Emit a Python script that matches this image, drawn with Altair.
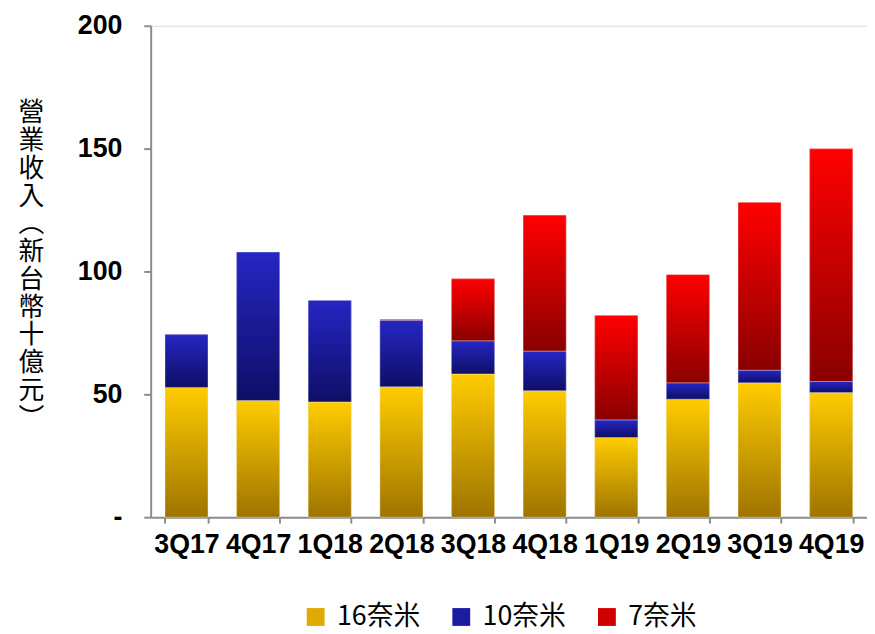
import altair as alt
import pandas as pd

quarters = ["3Q17", "4Q17", "1Q18", "2Q18", "3Q18", "4Q18", "1Q19", "2Q19", "3Q19", "4Q19"]
series = ["16奈米", "10奈米", "7奈米"]
nm16 = [52.8, 47.5, 46.9, 53.1, 58.3, 51.5, 32.4, 48.0, 54.7, 50.7]
nm10 = [21.5, 60.4, 41.3, 27.0, 13.5, 16.1, 7.2, 6.7, 5.1, 4.5]
nm7 = [0.0, 0.0, 0.0, 0.4, 25.2, 55.3, 42.5, 44.0, 68.3, 94.7]
y_ticks = [0, 50, 100, 150, 200]
y_title = ["營", "業", "收", "入", "︵", "新", "台", "幣", "十", "億", "元", "︶"]

rows = []
for i, q in enumerate(quarters):
    for k, (name, vals) in enumerate(zip(series, [nm16, nm10, nm7])):
        rows.append({"quarter": q, "series": name, "value": vals[i], "order": k})
df = pd.DataFrame(rows)

solid = ["#E0AA00", "#1C1CA0", "#D00000"]
grads = [
    ("#FFCC00", "#9E7400"),
    ("#2626C4", "#0E0E66"),
    ("#FF0000", "#8A0000"),
]

def gradient(top, bottom):
    return {
        "gradient": "linear",
        "x1": 0, "x2": 0, "y1": 0, "y2": 1,
        "stops": [{"offset": 0, "color": top}, {"offset": 1, "color": bottom}],
    }

x_enc = alt.X(
    "quarter:N",
    sort=quarters,
    scale=alt.Scale(paddingInner=0.4, paddingOuter=0.2),
    axis=alt.Axis(
        title=None, labelAngle=0, labelFont="Liberation Sans", labelFontSize=27,
        labelFontWeight="bold", labelColor="black", labelPadding=9,
        tickBand="extent", tickSize=6, tickWidth=2, tickColor="#8c8c8c",
        domainColor="#8c8c8c", domainWidth=2,
    ),
)
y_enc = alt.Y(
    "v0:Q",
    scale=alt.Scale(domain=[0, 200], nice=False),
    axis=alt.Axis(
        values=y_ticks, grid=False, title=y_title, titleAngle=0,
        titleFont="Noto Sans CJK TC", titleFontSize=26, titleFontWeight="normal",
        titleLineHeight=28, titleAlign="center", titleBaseline="top",
        titleX=-121, titleY=75, titleColor="black",
        labelExpr="datum.value == 0 ? '-' : datum.label",
        labelFont="Liberation Sans", labelFontSize=27, labelFontWeight="bold",
        labelColor="black", labelPadding=22, tickSize=7, tickWidth=2,
        tickColor="#8c8c8c", domainColor="#8c8c8c", domainWidth=2,
    ),
)

base = alt.Chart(df).transform_filter("datum.value > 0").transform_stack(
    stack="value", groupby=["quarter"], as_=["v0", "v1"],
    sort=[alt.SortField("order", order="ascending")],
)

legend_layer = base.mark_bar().encode(
    x=x_enc, y=y_enc, y2="v1:Q",
    color=alt.Color(
        "series:N",
        scale=alt.Scale(domain=series, range=solid),
        legend=alt.Legend(
            orient="none", legendX=153, legendY=583, direction="horizontal",
            title=None, symbolType="square", symbolSize=324, symbolStrokeWidth=0,
            labelFont="Noto Sans CJK TC", labelFontSize=27, labelColor="black",
            labelOffset=8, columnPadding=28, padding=0,
        ),
    ),
)

layers = [legend_layer]
for name, (top, bottom) in zip(series, grads):
    layers.append(
        base.transform_filter(alt.datum.series == name)
        .mark_bar(fill=gradient(top, bottom), stroke="white", strokeOpacity=0.35, strokeWidth=1)
        .encode(x=x_enc, y=y_enc, y2="v1:Q")
    )

chart = alt.layer(*layers).properties(
    width=723, height=496,
    autosize=alt.AutoSizeParams(type="none"),
    padding={"left": 144, "top": 15, "right": 0, "bottom": 115},
).configure_view(stroke=None).configure(background="white")

chart.save("out.html", embed_options={"renderer": "svg", "actions": False})
